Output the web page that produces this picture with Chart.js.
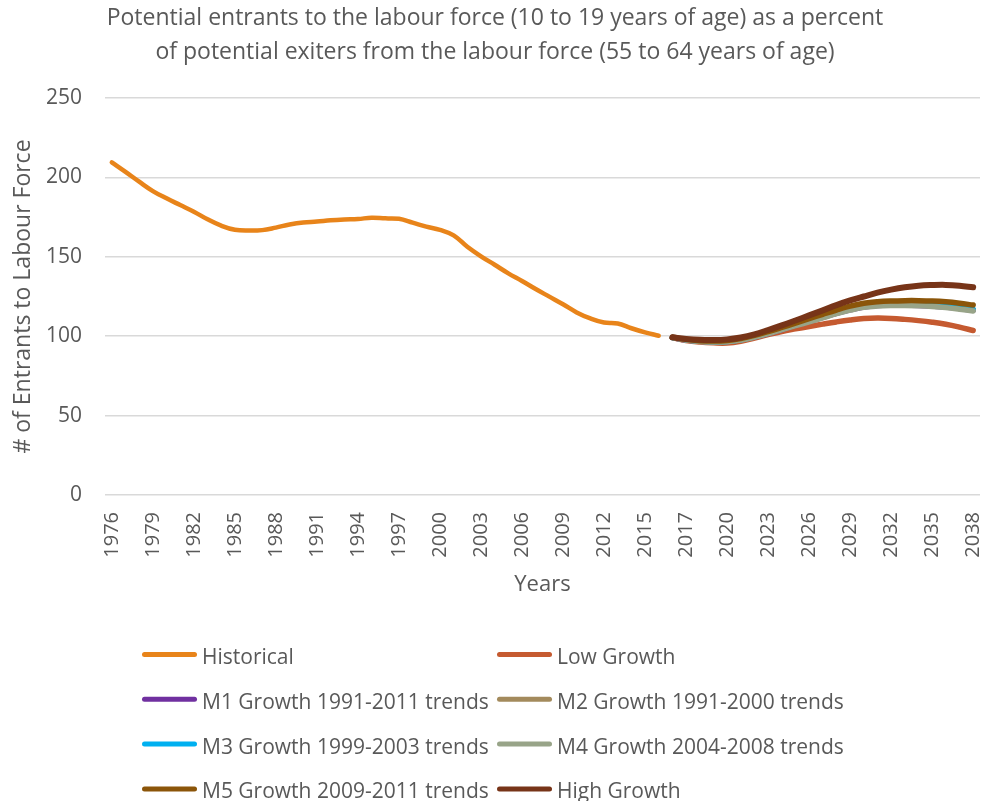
<!DOCTYPE html>
<html>
<head>
<meta charset="utf-8">
<script src="https://cdn.jsdelivr.net/npm/chart.js@4.4.1/dist/chart.umd.min.js"></script>
<style>
  body { margin: 0; background: #fff; }
  #wrap { width: 983px; height: 801px; position: relative; }
</style>
</head>
<body>
<div id="wrap"><canvas id="entrantsChart"></canvas></div>
<script>
// categories: historical years 1976-2016, then projection years 2016-2038
var years = [
  "1976", "1977", "1978", "1979", "1980", "1981", "1982", "1983", "1984", "1985",
  "1986", "1987", "1988", "1989", "1990", "1991", "1992", "1993", "1994", "1995",
  "1996", "1997", "1998", "1999", "2000", "2001", "2002", "2003", "2004", "2005",
  "2006", "2007", "2008", "2009", "2010", "2011", "2012", "2013", "2014", "2015",
  "2016",
  "2016", "2017", "2018", "2019", "2020", "2021", "2022", "2023", "2024", "2025",
  "2026", "2027", "2028", "2029", "2030", "2031", "2032", "2033", "2034", "2035",
  "2036", "2037", "2038"
];

// 1976-2016
var historical = [
  209.5, 203.5, 197.3, 191.4, 186.8, 182.6, 178.4, 173.6, 169.6, 167.0,
  166.5, 166.8, 168.4, 170.3, 171.6, 172.2, 173.0, 173.5, 173.8, 174.6,
  174.2, 173.9, 171.5, 169.0, 167.0, 163.5, 156.3, 150.3, 145.0, 139.6,
  134.8, 129.7, 124.9, 120.1, 115.0, 111.2, 108.6, 108.0, 105.0, 102.4,
  100.3
];

// 2016-2038
var lowGrowth = [99.1, 97.3, 96.3, 95.8, 95.7, 96.8, 98.8, 101.0, 103.0, 104.6,
  106.1, 107.6, 109.0, 110.2, 111.1, 111.4, 111.2, 110.6, 109.8, 108.8, 107.5, 105.7, 103.6];
var m1Growth = [99.2, 97.6, 96.8, 96.4, 96.6, 97.7, 99.5, 101.7, 104.2, 106.8,
  109.3, 111.8, 114.4, 116.6, 118.4, 119.3, 119.6, 119.6, 119.4, 119.0, 118.4, 117.4, 116.3];
var m2Growth = [99.2, 97.7, 96.8, 96.5, 96.7, 97.8, 99.6, 101.9, 104.4, 107.0,
  109.5, 112.0, 114.6, 116.9, 118.7, 119.6, 119.9, 119.9, 119.7, 119.3, 118.7, 117.7, 116.6];
var m3Growth = [99.2, 97.7, 96.9, 96.5, 96.7, 97.8, 99.7, 102.0, 104.5, 107.1,
  109.6, 112.1, 114.7, 117.0, 118.8, 119.7, 120.0, 120.0, 119.8, 119.4, 118.8, 117.9, 116.8];
var m4Growth = [99.2, 97.6, 96.7, 96.3, 96.5, 97.6, 99.4, 101.6, 104.1, 106.6,
  109.1, 111.6, 114.2, 116.4, 118.2, 119.0, 119.3, 119.3, 119.1, 118.7, 118.0, 117.0, 115.9];
var m5Growth = [99.3, 98.0, 97.2, 96.9, 97.3, 98.6, 100.5, 102.9, 105.5, 108.2,
  111.0, 113.8, 116.5, 118.9, 120.7, 121.7, 122.2, 122.4, 122.4, 122.2, 121.7, 120.8, 119.6];
var highGrowth = [99.3, 98.3, 97.7, 97.6, 98.0, 99.2, 101.2, 103.9, 106.8, 109.9,
  113.1, 116.3, 119.6, 122.5, 125.0, 127.4, 129.3, 130.8, 131.8, 132.2, 132.3, 131.8, 130.8];

var yTicks = [0, 50, 100, 150, 200, 250];

var textColor = "#595959";
Chart.defaults.font.family = '"Open Sans", sans-serif';
Chart.defaults.color = textColor;

function histLine(vals) {
  return vals.concat(new Array(years.length - vals.length).fill(null));
}
function projLine(vals) {
  return new Array(years.length - vals.length).fill(null).concat(vals);
}

function series(label, data, color, width, order) {
  return {
    label: label,
    data: data,
    borderColor: color,
    backgroundColor: color,
    borderWidth: width,
    pointRadius: 0,
    tension: 0.4,
    borderCapStyle: "round",
    borderJoinStyle: "round",
    order: order,
  };
}

// two-column legend like the original
var legendCols = [144.5, 499.5];
var legendTop = 654.5;
var legendRowGap = 44.8;
var gridLegend = {
  id: "gridLegend",
  afterDraw: function (chart) {
    var ctx = chart.ctx;
    ctx.save();
    ctx.font = '21px "Open Sans"';
    ctx.textBaseline = "alphabetic";
    ctx.fillStyle = textColor;
    chart.data.datasets.forEach(function (ds, i) {
      var x = legendCols[i % 2];
      var y = legendTop + Math.floor(i / 2) * legendRowGap;
      ctx.strokeStyle = ds.borderColor;
      ctx.lineWidth = 5;
      ctx.lineCap = "round";
      ctx.beginPath();
      ctx.moveTo(x, y);
      ctx.lineTo(x + 50, y);
      ctx.stroke();
      ctx.fillText(ds.label, x + 57.5, y + 9.5);
    });
    ctx.restore();
  },
};

var ctx = document.getElementById("entrantsChart").getContext("2d");
var entrantsChart = new Chart(ctx, {
  type: "line",
  data: {
    labels: years,
    datasets: [
      series("Historical", histLine(historical), "#E8841A", 4.5, 7),
      series("Low Growth", projLine(lowGrowth), "#C55A30", 5.5, 6),
      series("M1 Growth 1991-2011 trends", projLine(m1Growth), "#7030A0", 5.5, 5),
      series("M2 Growth 1991-2000 trends", projLine(m2Growth), "#A38A5C", 5.5, 4),
      series("M3 Growth 1999-2003 trends", projLine(m3Growth), "#00B0F0", 5.5, 3),
      series("M4 Growth 2004-2008 trends", projLine(m4Growth), "#98A488", 5.5, 2),
      series("M5 Growth 2009-2011 trends", projLine(m5Growth), "#8B5509", 5.5, 1),
      series("High Growth", projLine(highGrowth), "#773418", 6, 0),
    ],
  },
  options: {
    responsive: true,
    maintainAspectRatio: false,
    animation: false,
    layout: {
      padding: { left: 10, right: 3, top: 0, bottom: 201 },
    },
    plugins: {
      legend: { display: false },
      tooltip: { enabled: false },
      title: {
        display: true,
        text: [
          "Potential entrants to the labour force (10 to 19 years of age) as a percent",
          "of potential exiters from the labour force (55 to 64 years of age)",
        ],
        color: textColor,
        font: { size: 23, weight: "normal", lineHeight: 34 / 23 },
        padding: { top: 1, bottom: 29 },
      },
    },
    scales: {
      x: {
        offset: true,
        grid: { display: false, drawTicks: false },
        border: { display: false },
        ticks: {
          autoSkip: false,
          minRotation: 90,
          maxRotation: 90,
          padding: 17,
          color: textColor,
          font: { size: 20 },
          callback: function (value, index) {
            return index % 3 === 0 ? this.getLabelForValue(value) : null;
          },
        },
        title: {
          display: true,
          text: "Years",
          color: textColor,
          font: { size: 22 },
          padding: { top: 0, bottom: 2 },
        },
        afterFit: function (scale) {
          scale.height = 105;
          scale.paddingLeft = 0;
          scale.paddingRight = 0;
        },
      },
      y: {
        min: yTicks[0],
        max: yTicks[yTicks.length - 1],
        grid: { color: "#D9D9D9", lineWidth: 1.5, drawTicks: false },
        border: { display: false },
        afterBuildTicks: function (scale) {
          scale.ticks = yTicks.map(function (v) { return { value: v }; });
        },
        ticks: {
          padding: 23,
          color: textColor,
          font: { size: 21 },
        },
        title: {
          display: true,
          text: "# of Entrants to Labour Force",
          color: textColor,
          font: { size: 23 },
          padding: { top: 0, bottom: 3 },
        },
        afterFit: function (scale) {
          scale.width = 95;
        },
      },
    },
  },
  plugins: [gridLegend],
});
</script>
</body>
</html>
